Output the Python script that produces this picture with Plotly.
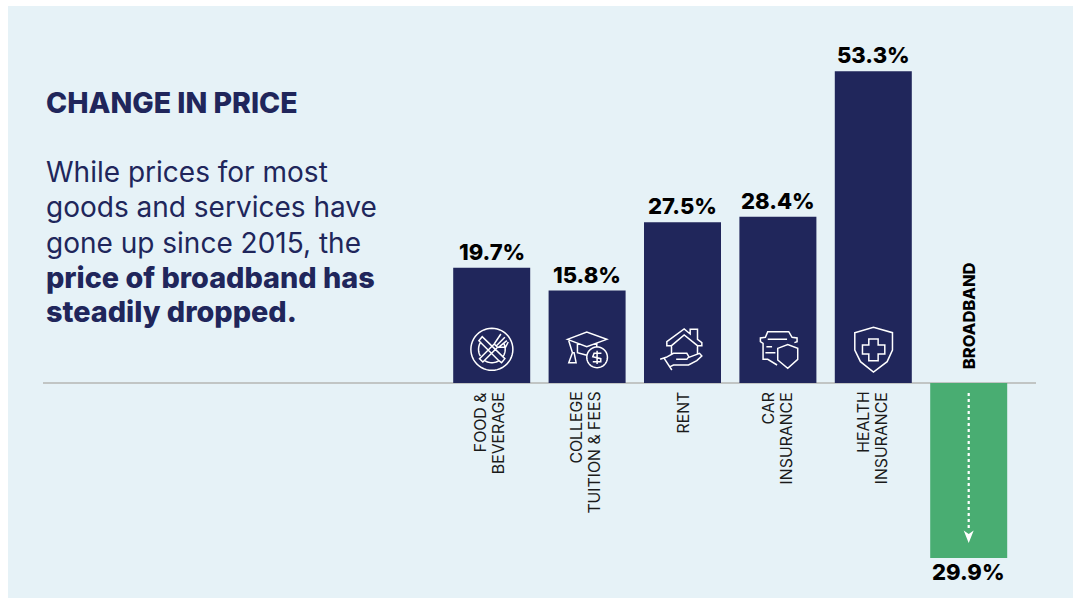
import math
import plotly.graph_objects as go

categories = ["Food & Beverage", "College Tuition & Fees", "Rent", "Car Insurance", "Health Insurance", "Broadband"]
tick_lines = [["FOOD &", "BEVERAGE"], ["COLLEGE", "TUITION & FEES"], ["RENT"], ["CAR", "INSURANCE"], ["HEALTH", "INSURANCE"]]
values = [19.7, 15.8, 27.5, 28.4, 53.3, -29.9]
bar_colors = ["#20265b"] * 5 + ["#49ad72"]
title_text = "CHANGE IN PRICE"
body_lines = ["While prices for most", "goods and services have", "gone up since 2015, the"]
bold_lines = ["price of broadband has", "steadily dropped."]

W, H = 1073, 598
NAVY = "#20265b"
FONT = "Inter"
BASE_Y = 383.0
PX_PER_UNIT = 5.85
X0, STEP = 491.7, 95.4
TEXT_X = 43.5


def pxx(x):
    return x / W


def pxy(y):
    return 1 - y / H


def poly(points, cx, closed=False):
    d = "M" + " L".join(f"{(x - cx) / 3:.2f},{(219 - y) / 3:.2f}" for x, y in points)
    return d + (" Z" if closed else "")


def circle(c, r, cx, a0=0, a1=360, n=48):
    pts = [(c[0] + r * math.cos(math.radians(a0 + (a1 - a0) * i / n)),
            c[1] + r * math.sin(math.radians(a0 + (a1 - a0) * i / n))) for i in range(n + 1)]
    return poly(pts, cx, closed=(a1 - a0 == 360))


cx = 154.5
food = " ".join([
    circle((155, 118), 63, cx),
    circle((155, 118), 40, cx, 150, 215, 12),
    circle((155, 118), 40, cx, 330, 395, 12),
    circle((155, 118), 40, cx, 60, 125, 12),
    poly([(116, 92), (126, 80), (194, 146), (184, 158), (176, 152), (116, 92)], cx, True),
    poly([(118, 146), (128, 156), (172, 112), (162, 102)], cx, True),
    poly([(162, 102), (182, 72)], cx), poly([(168, 108), (194, 82)], cx),
    poly([(174, 113), (200, 92)], cx), poly([(172, 112), (196, 112), (204, 96)], cx),
])
cx = 441
grad = " ".join([
    poly([(382, 88), (440, 66), (500, 88), (440, 110)], cx, True),
    poly([(412, 98), (412, 128), (440, 136)], cx),
    poly([(470, 100), (470, 112)], cx),
    poly([(386, 92), (397, 128)], cx),
    poly([(397, 128), (386, 158), (408, 158), (402, 128)], cx, True),
    circle((471, 142), 31, cx),
    poly([(484, 130), (462, 130), (458, 140), (482, 146), (482, 155), (458, 155)], cx),
    poly([(471, 122), (471, 162)], cx),
])
cx = 727
rent = " ".join([
    poly([(680, 95), (732, 57), (750, 72), (750, 58), (772, 58), (772, 88), (785, 98),
          (785, 107), (772, 107), (732, 75), (694, 107), (680, 107)], cx, True),
    poly([(694, 107), (694, 134)], cx),
    poly([(772, 107), (772, 134)], cx),
    poly([(660, 148), (678, 142), (700, 130), (740, 130), (746, 140), (740, 148), (708, 148)], cx),
    poly([(746, 142), (778, 130), (785, 138), (770, 152), (745, 165), (700, 165), (690, 170)], cx),
    poly([(672, 145), (695, 180)], cx),
])
cx = 142.5
car = " ".join([
    poly([(140, 165), (112, 148), (98, 148), (98, 100), (90, 95), (90, 84), (105, 82),
          (112, 65), (175, 65), (185, 82), (200, 84), (200, 95), (192, 98)], cx),
    poly([(112, 88), (170, 88)], cx),
    poly([(108, 110), (125, 110)], cx),
    poly([(105, 128), (135, 128)], cx),
    poly([(142, 115), (172, 104), (202, 115), (202, 148), (172, 175), (142, 150)], cx, True),
])
cx = 430.5
health = " ".join([
    poly([(375, 68), (431, 52), (488, 68), (488, 120), (472, 155), (431, 186), (392, 155), (375, 120)], cx, True),
    poly([(417, 87), (445, 87), (445, 105), (465, 105), (465, 132), (445, 132), (445, 152),
          (417, 152), (417, 132), (398, 132), (398, 105), (417, 105)], cx, True),
])
icons = [food, grad, rent, car, health]

arrow_head = "M-5,-147.5 L0,-160 L5,-147.5 L0,-151 Z"

shapes = [
    dict(type="rect", xref="paper", yref="paper", x0=pxx(8), x1=1, y0=0, y1=pxy(6),
         fillcolor="#e6f2f7", line_width=0, layer="below"),
    dict(type="line", xref="paper", yref="y", x0=pxx(43), x1=pxx(1036), y0=0, y1=0,
         line=dict(color="#b4b6b3", width=1.5), layer="below"),
    dict(type="line", xref="x", yref="y", x0=categories[5], x1=categories[5],
         y0=-10 / PX_PER_UNIT, y1=-147 / PX_PER_UNIT, line=dict(color="white", width=2.2, dash="dot")),
    dict(type="path", xref="x", yref="y", xsizemode="pixel", ysizemode="pixel",
         xanchor=categories[5], yanchor=0, path=arrow_head, fillcolor="white", line_width=0),
]
for name, icon in zip(categories, icons):
    shapes.append(dict(type="path", xref="x", yref="y", xsizemode="pixel", ysizemode="pixel",
                       xanchor=name, yanchor=0, path=icon, line=dict(color="white", width=1.5)))

annotations = [
    dict(xref="paper", yref="paper", x=pxx(TEXT_X), y=pxy(102), xanchor="left", yanchor="middle",
         text=title_text, showarrow=False,
         font=dict(family=FONT, size=28.5, color=NAVY, weight=800)),
]
for text, py in zip(body_lines, [172, 207, 243]):
    annotations.append(dict(xref="paper", yref="paper", x=pxx(TEXT_X), y=pxy(py), xanchor="left",
                            yanchor="middle", text=text, showarrow=False,
                            font=dict(family=FONT, size=28, color=NAVY, weight=400)))
for text, py in zip(bold_lines, [277, 311]):
    annotations.append(dict(xref="paper", yref="paper", x=pxx(TEXT_X), y=pxy(py), xanchor="left",
                            yanchor="middle", text=text, showarrow=False,
                            font=dict(family=FONT, size=28.8, color=NAVY, weight=800)))
label_shift = [-2.5, -2.5, 0, -0.5, -1]
for name, lines, dx in zip(categories, tick_lines, label_shift):
    offsets = [-9, 9] if len(lines) == 2 else [0]
    for line, off in zip(lines, offsets):
        annotations.append(dict(xref="x", yref="y", x=name, y=0, yshift=-7, xshift=dx + off,
                                xanchor="center", yanchor="top", text=line, textangle=-90,
                                showarrow=False, font=dict(family=FONT, size=15.8, color="#1a1a1a")))
annotations.append(dict(xref="x", yref="y", x=categories[5], y=0, yshift=12, xanchor="center",
                        yanchor="bottom", text=categories[5].upper(), textangle=-90, showarrow=False,
                        font=dict(family=FONT, size=16.5, color="#000000", weight=800)))
for name, v in zip(categories, values):
    annotations.append(dict(xref="x", yref="y", x=name, y=v, yshift=16 if v > 0 else -14,
                            xanchor="center", yanchor="middle", text=f"{abs(v):.1f}%", showarrow=False,
                            font=dict(family=FONT, size=22, color="#000000", weight=800)))

fig = go.Figure(go.Bar(
    x=categories, y=values, width=77 / STEP, marker=dict(color=bar_colors, line_width=0),
    cliponaxis=False, hoverinfo="skip",
))
fig.update_layout(
    width=W, height=H, margin=dict(l=0, r=0, t=0, b=0), paper_bgcolor="white", plot_bgcolor="rgba(0,0,0,0)",
    showlegend=False, shapes=shapes, annotations=annotations,
    xaxis=dict(range=[-X0 / STEP, (W - X0) / STEP], visible=False, type="category",
               categoryorder="array", categoryarray=categories),
    yaxis=dict(range=[-(H - BASE_Y) / PX_PER_UNIT, BASE_Y / PX_PER_UNIT], visible=False),
)
fig.write_html("out.html", post_script="document.body.style.margin='0';",
               config=dict(displayModeBar=False))
